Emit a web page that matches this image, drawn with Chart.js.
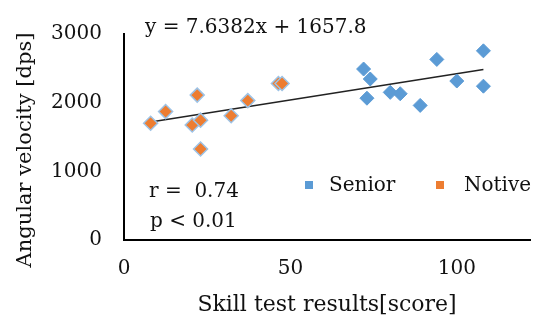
<!DOCTYPE html>
<html lang="en">
<head>
<meta charset="UTF-8">
<title>Angular velocity vs skill test</title>
<script src="https://cdn.jsdelivr.net/npm/chart.js"></script>
<style>
	html, body { margin: 0; padding: 0; background: #fff; }
	#wrap { width: 540px; height: 320px; }
</style>
</head>
<body>
<div id="wrap"><canvas id="chart"></canvas></div>
<script>
	// values
	var seniorX = [72, 74, 73, 80, 83, 89, 94, 100, 108, 108];
	var seniorY = [2490, 2345, 2065, 2150, 2130, 1960, 2630, 2315, 2755, 2240];
	var notiveX = [8, 12.5, 22, 20.5, 23, 23, 32.2, 37.2, 46.4, 47.5];
	var notiveY = [1700, 1870, 2110, 1675, 1745, 1325, 1810, 2030, 2280, 2280];
	var slope = 7.6382, intercept = 1657.8;
	var seriesNames = ["Senior", "Notive"];
	var seriesColors = ["#5B9BD5", "#ED7D31"];
	var notes = ["y = 7.6382x + 1657.8", "r =  0.74", "p < 0.01"];
	var yTitle = "Angular velocity [dps]";

	function toPoints(xs, ys) {
		return xs.map(function (x, i) { return { x: x, y: ys[i] }; });
	}

	var allX = seniorX.concat(notiveX);
	var xLo = Math.min.apply(null, allX), xHi = Math.max.apply(null, allX);
	var trend = [{ x: xLo, y: slope * xLo + intercept }, { x: xHi, y: slope * xHi + intercept }];

	var textColor = "#111";
	var fontFam = "'DejaVu Serif', serif";
	Chart.defaults.font.family = fontFam;
	Chart.defaults.font.size = 20;
	Chart.defaults.color = textColor;

	// text boxes, y title and the inside legend, as in the original
	var extras = {
		id: "extras",
		afterDraw: function (chart) {
			var ctx = chart.ctx;
			ctx.save();
			ctx.font = "20px " + fontFam;
			ctx.fillStyle = textColor;
			ctx.textAlign = "left";
			ctx.textBaseline = "middle";
			ctx.fillText(notes[0], 145, 28);
			ctx.fillText(notes[1], 149, 192);
			ctx.fillText(notes[2], 150, 222);

			ctx.fillStyle = seriesColors[0];
			ctx.fillRect(305, 181, 8, 8);
			ctx.fillStyle = seriesColors[1];
			ctx.fillRect(436, 181, 8, 8);
			ctx.fillStyle = textColor;
			ctx.fillText(seriesNames[0], 329, 186);
			ctx.fillText(seriesNames[1], 464, 186);

			ctx.translate(26, 150);
			ctx.rotate(-Math.PI / 2);
			ctx.textAlign = "center";
			ctx.font = "21px " + fontFam;
			ctx.fillText(yTitle, 0, 0);
			ctx.restore();
		}
	};

	new Chart(document.getElementById("chart"), {
		type: "scatter",
		data: {
			datasets: [
				{
					label: seriesNames[0],
					data: toPoints(seniorX, seniorY),
					pointStyle: "rectRot",
					pointRadius: 7,
					pointHoverRadius: 7,
					backgroundColor: seriesColors[0],
					borderColor: seriesColors[0],
					borderWidth: 1
				},
				{
					label: seriesNames[1],
					data: toPoints(notiveX, notiveY),
					pointStyle: "rectRot",
					pointRadius: 7,
					pointHoverRadius: 7,
					backgroundColor: seriesColors[1],
					borderColor: "#9DC3E6",
					borderWidth: 1.5
				},
				{
					type: "line",
					label: "trend",
					data: trend,
					borderColor: "#222",
					borderWidth: 1.5,
					pointRadius: 0,
					fill: false
				}
			]
		},
		options: {
			responsive: true,
			maintainAspectRatio: false,
			animation: false,
			layout: { padding: { top: 23, right: 10, left: 0, bottom: 0 } },
			plugins: {
				legend: { display: false },
				tooltip: { enabled: false }
			},
			scales: {
				x: {
					type: "linear",
					min: 0,
					max: 122,
					ticks: { stepSize: 50, includeBounds: false, padding: 17, callback: function (v) { return String(v); } },
					grid: { display: false, drawTicks: false },
					border: { color: "#000", width: 2 },
					title: { display: true, text: "Skill test results[score]", font: { size: 22 }, padding: { top: 0, bottom: 2 } },
					afterFit: function (s) { s.height = 80; }
				},
				y: {
					min: 0,
					max: 3000,
					ticks: { stepSize: 1000, padding: 22, callback: function (v) { return String(v); } },
					grid: { display: false, drawTicks: false },
					border: { color: "#000", width: 2 },
					title: { display: false },
					afterFit: function (s) { s.width = 124; }
				}
			}
		},
		plugins: [extras]
	});
</script>
</body>
</html>
